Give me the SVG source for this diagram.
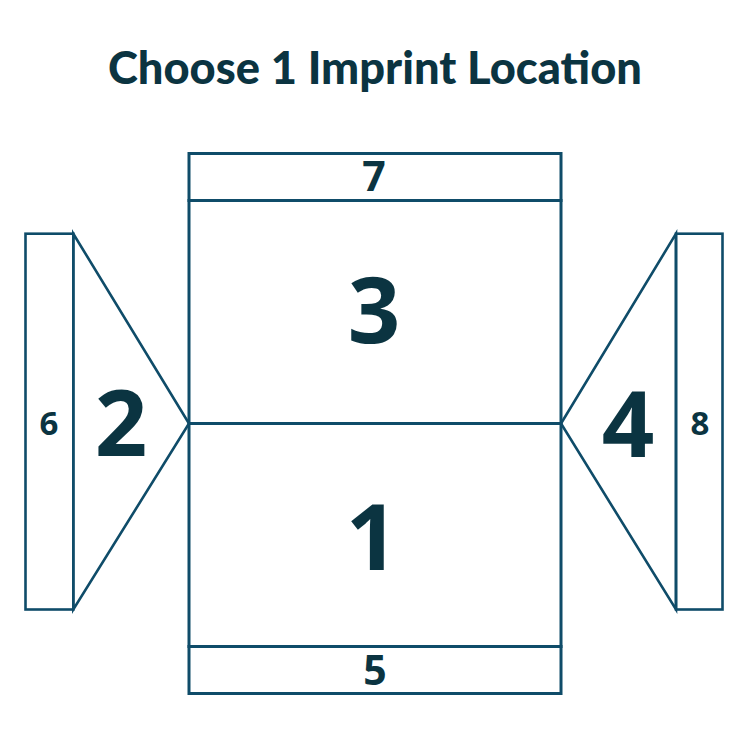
<svg xmlns="http://www.w3.org/2000/svg" width="750" height="750" viewBox="0 0 750 750">
<style>
.shape{fill:none;stroke:#0f4c69;stroke-width:3;stroke-linejoin:miter}
.thin{stroke-width:2.6}
.num{font-family:"Open Sans","Noto Sans","Liberation Sans",sans-serif;font-weight:700;fill:#0b3441;text-anchor:middle}
.title{font-family:Lato,"Noto Sans","Liberation Sans",sans-serif;font-weight:900;fill:#0b3441;text-anchor:middle}
</style>
<rect width="750" height="750" fill="#ffffff"/>
<text class="title" x="375" y="84" font-size="46" textLength="534" lengthAdjust="spacingAndGlyphs">Choose 1 Imprint Location</text>
<g id="top-band">
<rect class="shape" x="189" y="153.5" width="372" height="47"/>
<text class="num" x="374" y="191" font-size="41">7</text>
</g>
<g id="panel-3">
<rect class="shape" x="189" y="200.5" width="372" height="223"/>
<text class="num" x="374" y="342.5" font-size="92">3</text>
</g>
<g id="panel-1">
<rect class="shape" x="189" y="423.5" width="372" height="223"/>
<text class="num" x="372" y="569.5" font-size="92">1</text>
</g>
<g id="bottom-band">
<rect class="shape" x="189" y="646.5" width="372" height="47"/>
<text class="num" x="375" y="685" font-size="41">5</text>
</g>
<g id="left-flap">
<polygon class="shape thin" points="73.3,233.7 189,423.5 73.3,609.5"/>
<text class="num" x="121" y="456" font-size="92">2</text>
</g>
<g id="left-side">
<rect class="shape thin" x="25.5" y="233.7" width="47.8" height="375.8"/>
<text class="num" x="49" y="435" font-size="33">6</text>
</g>
<g id="right-flap">
<polygon class="shape thin" points="676,233.7 561,423.5 676,609.5"/>
<text class="num" x="628" y="456.5" font-size="92">4</text>
</g>
<g id="right-side">
<rect class="shape thin" x="676" y="233.7" width="46.5" height="375.8"/>
<text class="num" x="700" y="435" font-size="33">8</text>
</g>
<g id="connectors"></g>
</svg>
